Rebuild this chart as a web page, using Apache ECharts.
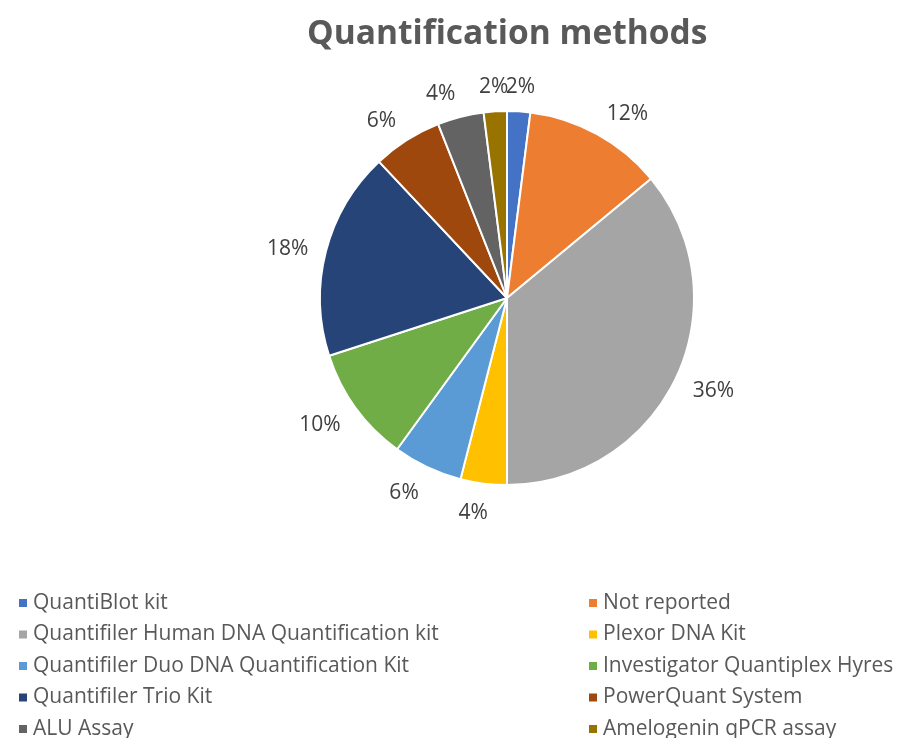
<!DOCTYPE html>
<html>
<head>
<meta charset="utf-8">
<script src="https://cdn.jsdelivr.net/npm/echarts@6/dist/echarts.min.js"></script>
<style>
  html, body { margin: 0; padding: 0; background: #fff; }
  #chart { width: 899px; height: 738px; }
</style>
</head>
<body>
<div id="chart"></div>
<script>
const methods = [
  "QuantiBlot kit",
  "Not reported",
  "Quantifiler Human DNA Quantification kit",
  "Plexor DNA Kit",
  "Quantifiler Duo DNA Quantification Kit",
  "Investigator Quantiplex Hyres",
  "Quantifiler Trio Kit",
  "PowerQuant System",
  "ALU Assay",
  "Amelogenin qPCR assay",
];
const shares = [2, 12, 36, 4, 6, 10, 18, 6, 4, 2];
const colors = ["#4472C4", "#ED7D31", "#A5A5A5", "#FFC000", "#5B9BD5",
  "#70AD47", "#264478", "#9E480E", "#636363", "#997300"];

const font = "'Open Sans', 'Noto Sans', sans-serif";
const cx = 507, cy = 298, r = 187;
const pieData = methods.map((name, i) => ({ name, value: shares[i], itemStyle: { color: colors[i] } }));

const chart = echarts.init(document.getElementById("chart"));

const legendBase = {
  orient: "vertical",
  top: 587,
  height: 200,
  icon: "rect",
  itemWidth: 10,
  itemHeight: 10,
  itemGap: 9.5,
  selectedMode: false,
  textStyle: { fontFamily: font, fontSize: 21, color: "#595959", lineHeight: 22 },
};

// Excel-style outside end: a point just beyond the rim, the label box hung off
// it sideways (less so near the top and bottom of the pie)
const placeLabel = (params) => {
  const rect = params.labelRect;
  const mx = rect.x + rect.width / 2 - cx;
  const my = rect.y + rect.height / 2 - cy;
  const len = Math.sqrt(mx * mx + my * my) || 1;
  const ux = mx / len, uy = my / len;
  const t = r + 22 - 4 * Math.abs(ux);
  const side = Math.min(1, Math.max(0, (Math.abs(ux) - 0.06) * 8));
  return {
    x: cx + ux * t + Math.sign(ux) * side * rect.width / 2,
    y: cy + uy * t + 4 + (uy < 0 ? 7 : 4) * uy,
    align: "center",
    verticalAlign: "middle",
  };
};

chart.setOption({
  animation: false,
  title: {
    text: "Quantification methods",
    left: 302,
    top: 12,
    textStyle: { fontFamily: font, fontSize: 33.5, fontWeight: "bold", color: "#595959" },
  },
  legend: [
    Object.assign({}, legendBase, { left: 12, data: methods.filter((_, i) => i % 2 === 0) }),
    Object.assign({}, legendBase, { left: 582, data: methods.filter((_, i) => i % 2 === 1) }),
  ],
  series: [
    {
      type: "pie",
      center: [cx, cy],
      radius: [0, r],
      startAngle: 90,
      clockwise: true,
      data: pieData,
      itemStyle: { borderColor: "#fff", borderWidth: 2 },
      label: { show: false },
      labelLine: { show: false },
      emphasis: { disabled: true },
    },
    {
      // transparent ring that only carries the percentage labels
      type: "pie",
      center: [cx, cy],
      radius: [200, 240],
      startAngle: 90,
      clockwise: true,
      silent: true,
      data: pieData.map((d) => ({ name: d.name, value: d.value })),
      itemStyle: { color: "rgba(0,0,0,0)" },
      label: {
        show: true,
        position: "inside",
        formatter: (p) => p.value + "%",
        fontFamily: font,
        fontSize: 21,
        color: "#404040",
      },
      labelLine: { show: false },
      labelLayout: placeLabel,
      emphasis: { disabled: true },
    },
  ],
});
</script>
</body>
</html>
